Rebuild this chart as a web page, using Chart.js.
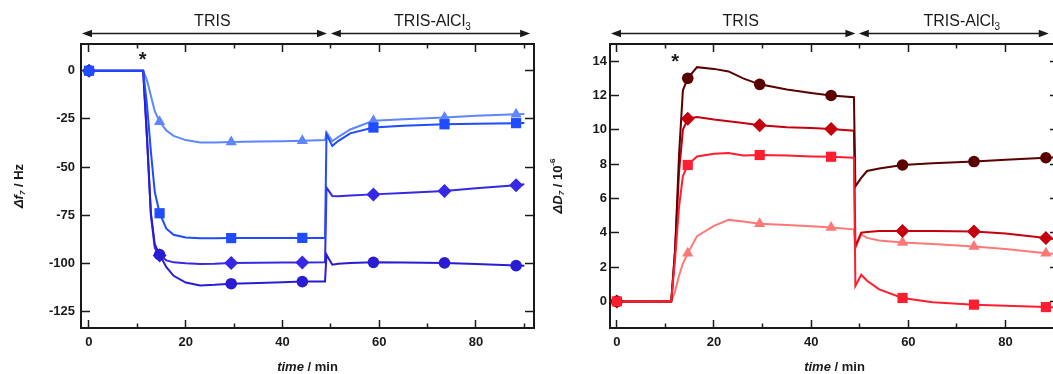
<!DOCTYPE html>
<html>
<head>
<meta charset="utf-8">
<script src="https://cdn.jsdelivr.net/npm/chart.js@4.4.1/dist/chart.umd.min.js"></script>
<style>
  html, body { margin: 0; padding: 0; background: #fff; }
  body { width: 1053px; height: 374px; overflow: hidden; position: relative; }
  #freqWrap { position: absolute; left: 0; top: 0; width: 545px; height: 374px; }
  #dissWrap { position: absolute; left: 545px; top: 0; width: 530px; height: 374px; }
</style>
</head>
<body>
<div id="freqWrap"><canvas id="freqChart" width="545" height="374"></canvas></div>
<div id="dissWrap"><canvas id="dissChart" width="530" height="374"></canvas></div>
<script>
/* axis ticks */
const timeMajor = [0, 20, 40, 60, 80];
const timeMinor = [10, 30, 50, 70, 90];
const freqTicks = [0, -25, -50, -75, -100, -125];
const dissTicks = [0, 2, 4, 6, 8, 10, 12, 14];

/* times where a marker is drawn */
const markerTimes = [0, 14.6, 29.4, 44.1, 58.8, 73.5, 88.3];

/* frequency shift, delta f7 / Hz */
const timeF = [0, 11.2, 12, 12.8, 13.6, 14.6, 16, 17.5, 20, 23, 26, 29.4, 35, 40, 44.1, 48.8, 49.1, 50.3, 51.5, 54, 58.8, 65, 73.5, 80, 88.3, 90];
const fCircle   = [0, 0, -35, -74, -90, -95.5, -102, -106.5, -110, -111.5, -111.2, -110.6, -110.2, -109.8, -109.5, -109.4, -95.5, -100.7, -100.2, -99.8, -99.5, -99.6, -99.8, -100.4, -101.2, -101.3];
const fDiamond  = [0, 0, -35, -75, -92, -96, -98.5, -99.5, -100, -100.3, -100.2, -99.8, -99.7, -99.6, -99.6, -99.5, -60.7, -65, -65.2, -64.8, -64.2, -63.5, -62.5, -61, -59.4, -59];
const fSquare   = [0, 0, -18, -42, -63, -74, -82, -85.2, -86.6, -87, -87, -86.9, -86.9, -86.8, -86.8, -86.8, -33, -39, -36.5, -32.5, -29.5, -28.5, -27.8, -27.5, -27.2, -27.1];
const fTriangle = [0, 0, -5, -13, -21, -26.5, -31, -33.8, -36, -37.2, -37.3, -37, -36.8, -36.6, -36.3, -36, -32, -36.5, -34.5, -30.5, -26, -25.2, -24.3, -23.4, -22.6, -22.4];

/* dissipation shift, delta D7 / 1e-6 */
const timeD = [0, 11.2, 12, 12.8, 13.6, 14.6, 16.5, 20, 23, 26, 29.4, 35, 40, 44.1, 48.8, 49.1, 50.3, 51.5, 54, 58.8, 65, 73.5, 80, 88.3, 91];
const dCircle   = [0, 0, 3, 8.5, 12.3, 13.0, 13.65, 13.55, 13.4, 13.0, 12.65, 12.35, 12.15, 12.0, 11.9, 6.7, 7.2, 7.6, 7.75, 7.95, 8.05, 8.15, 8.25, 8.37, 8.4];
const dDiamond  = [0, 0, 3, 7.5, 10.0, 10.65, 10.75, 10.6, 10.5, 10.4, 10.27, 10.15, 10.1, 10.05, 9.95, 3.2, 4.0, 4.05, 4.1, 4.1, 4.1, 4.07, 3.95, 3.7, 3.6];
const dSquare   = [0, 0, 2.5, 5.5, 7.3, 7.95, 8.45, 8.6, 8.65, 8.5, 8.53, 8.5, 8.45, 8.43, 8.37, 0.9, 1.55, 1.2, 0.7, 0.2, -0.05, -0.19, -0.25, -0.33, -0.35];
const dTriangle = [0, 0, 0.6, 1.5, 2.2, 2.8, 3.8, 4.4, 4.75, 4.65, 4.52, 4.45, 4.38, 4.3, 4.2, 3.1, 3.9, 3.7, 3.55, 3.43, 3.35, 3.2, 3.05, 2.81, 2.75];

const FONT = '"Liberation Sans", Arial, sans-serif';
const INK = '#1a1a1a';

function series(label, times, values, style, color, radius) {
  return {
    label,
    data: times.map((t, i) => ({ x: t, y: values[i] })),
    borderColor: color,
    backgroundColor: color,
    borderWidth: 2,
    pointStyle: style,
    pointBackgroundColor: color,
    pointBorderColor: color,
    pointBorderWidth: 0,
    pointRadius: times.map(t => markerTimes.includes(t) ? radius : 0),
    pointHoverRadius: 0,
    tension: 0
  };
}

// mixed italic / sub / superscript text, centred on (x, y)
function drawRich(ctx, parts, x, y, size, angle) {
  ctx.save();
  ctx.translate(x, y);
  ctx.rotate(angle);
  const fontOf = p => `${p.italic ? 'italic ' : ''}${p.normal ? '' : 'bold '}${(p.sub || p.sup) ? Math.round(size * 0.65) : size}px ${FONT}`;
  let total = 0;
  parts.forEach(p => { ctx.font = fontOf(p); total += ctx.measureText(p.text).width; });
  let cx = -total / 2;
  ctx.textAlign = 'left';
  ctx.textBaseline = 'middle';
  ctx.fillStyle = INK;
  parts.forEach(p => {
    ctx.font = fontOf(p);
    const dy = p.sub ? size * 0.3 : p.sup ? -size * 0.4 : 0;
    ctx.fillText(p.text, cx, dy);
    cx += ctx.measureText(p.text).width;
  });
  ctx.restore();
}

function arrow(ctx, x1, x2, y) {
  const h = 10, w = 3.8;
  ctx.beginPath();
  ctx.moveTo(x1 + h - 2, y);
  ctx.lineTo(x2 - h + 2, y);
  ctx.stroke();
  ctx.beginPath();
  ctx.moveTo(x1, y); ctx.lineTo(x1 + h, y - w); ctx.lineTo(x1 + h, y + w); ctx.closePath();
  ctx.moveTo(x2, y); ctx.lineTo(x2 - h, y - w); ctx.lineTo(x2 - h, y + w); ctx.closePath();
  ctx.fill();
}

const decorations = {
  id: 'decorations',
  afterDraw(chart, args, o) {
    const ctx = chart.ctx;
    const xs = chart.scales.x;
    const area = chart.chartArea;
    ctx.save();
    ctx.strokeStyle = INK;
    ctx.fillStyle = INK;
    ctx.lineWidth = 1.6;

    // phase arrows and names
    const e = o.arrowEdges.map(v => xs.getPixelForValue(v));
    arrow(ctx, e[0], e[1], 33.5);
    arrow(ctx, e[2], e[3], 33.5);
    drawRich(ctx, [{ text: 'TRIS', normal: true }], xs.getPixelForValue(25.5), 22, 16, 0);
    drawRich(ctx, [{ text: 'TRIS-AlCl', normal: true }, { text: '3', normal: true, sub: true }],
      xs.getPixelForValue(71), 22, 16, 0);

    // injection mark
    ctx.font = `bold 20px ${FONT}`;
    ctx.textAlign = 'center';
    ctx.textBaseline = 'alphabetic';
    ctx.fillText('*', xs.getPixelForValue(o.starTime), area.top + o.starDy);

    // axis titles
    drawRich(ctx, [{ text: 'time', italic: true }, { text: ' / min' }],
      (area.left + area.right) / 2, 367, 13, 0);
    drawRich(ctx, o.yTitle, o.yTitleX, (area.top + area.bottom) / 2, 13, -Math.PI / 2);
    ctx.restore();
  }
};

function axes(cfg) {
  const tickFont = { family: FONT, size: 13, weight: 'bold' };
  const frame = { display: true, color: INK, width: 2 };
  const noFrame = { display: false };
  const fixed = list => s => { s.ticks = list.map(v => ({ value: v })); };
  const tickGrid = len => ({ drawOnChartArea: false, tickLength: len, tickWidth: 1.5, tickColor: INK });
  return {
    x: {
      type: 'linear', position: 'bottom', min: cfg.xMin, max: cfg.xMax, weight: 1,
      afterBuildTicks: fixed(timeMajor), afterFit: s => { s.height = 46; },
      grid: tickGrid(-8), border: frame,
      ticks: { padding: 15, color: INK, font: tickFont, maxRotation: 0, autoSkip: false }
    },
    xMinor: {
      type: 'linear', position: 'bottom', min: cfg.xMin, max: cfg.xMax, weight: 0,
      afterBuildTicks: fixed(timeMinor), afterFit: s => { s.height = 0; },
      grid: tickGrid(-4.5), border: noFrame, ticks: { display: false }
    },
    xTop: {
      type: 'linear', position: 'top', min: cfg.xMin, max: cfg.xMax, weight: 1,
      afterBuildTicks: fixed(timeMajor), afterFit: s => { s.height = 0; },
      grid: tickGrid(-8), border: frame, ticks: { display: false }
    },
    xTopMinor: {
      type: 'linear', position: 'top', min: cfg.xMin, max: cfg.xMax, weight: 0,
      afterBuildTicks: fixed(timeMinor), afterFit: s => { s.height = 0; },
      grid: tickGrid(-4.5), border: noFrame, ticks: { display: false }
    },
    y: {
      type: 'linear', position: 'left', min: cfg.yMin, max: cfg.yMax,
      afterBuildTicks: fixed(cfg.yTicks), afterFit: s => { s.width = cfg.yWidth; },
      grid: tickGrid(-9), border: frame,
      ticks: { padding: cfg.yPad, color: INK, font: tickFont, autoSkip: false }
    },
    yRight: {
      type: 'linear', position: 'right', min: cfg.yMin, max: cfg.yMax,
      afterBuildTicks: fixed(cfg.yTicks), afterFit: s => { s.width = 0; },
      grid: tickGrid(-9), border: frame, ticks: { display: false }
    }
  };
}

function makeChart(id, datasets, cfg, deco) {
  return new Chart(document.getElementById(id), {
    type: 'line',
    data: { datasets },
    options: {
      responsive: false,
      animation: false,
      devicePixelRatio: 1,
      events: [],
      layout: { padding: { left: 0, top: 44, right: cfg.padRight, bottom: 0 } },
      scales: axes(cfg),
      plugins: { legend: { display: false }, tooltip: { enabled: false }, decorations: deco }
    },
    plugins: [decorations]
  });
}

/* FREQUENCY PANEL (first dataset is drawn on top) */
makeChart('freqChart', [
  series('square', timeF, fSquare, 'rect', '#1f4cff', 7.2),
  series('circle', timeF, fCircle, 'circle', '#2a1cd2', 5.8),
  series('diamond', timeF, fDiamond, 'rectRot', '#3628e4', 7),
  series('triangle', timeF, fTriangle, 'triangle', '#5f86ff', 6.5)
], {
  xMin: -1.65, xMax: 92, yMin: -133.6, yMax: 13.9, yTicks: freqTicks,
  yWidth: 81, yPad: 15, padRight: 11
}, {
  arrowEdges: [-1.45, 49.2, 50.0, 91.2],
  starTime: 11.1, starDy: 22,
  yTitleX: 19,
  yTitle: [{ text: '\u0394f', italic: true }, { text: '7', italic: true, sub: true }, { text: ' / Hz' }]
});

/* DISSIPATION PANEL */
makeChart('dissChart', [
  series('square', timeD, dSquare, 'rect', '#ff1e30', 7.2),
  series('circle', timeD, dCircle, 'circle', '#5a0000', 5.8),
  series('diamond', timeD, dDiamond, 'rectRot', '#c4000e', 7),
  series('triangle', timeD, dTriangle, 'triangle', '#ff7878', 6.5)
], {
  xMin: -1.4, xMax: 91, yMin: -1.55, yMax: 15, yTicks: dissTicks,
  yWidth: 65, yPad: 12, padRight: 16
}, {
  arrowEdges: [-1.2, 49.1, 49.8, 88.9],
  starTime: 12, starDy: 24,
  yTitleX: 13,
  yTitle: [{ text: '\u0394D', italic: true }, { text: '7', italic: true, sub: true }, { text: ' / 10' }, { text: '-6', sup: true }]
});
</script>
</body>
</html>
